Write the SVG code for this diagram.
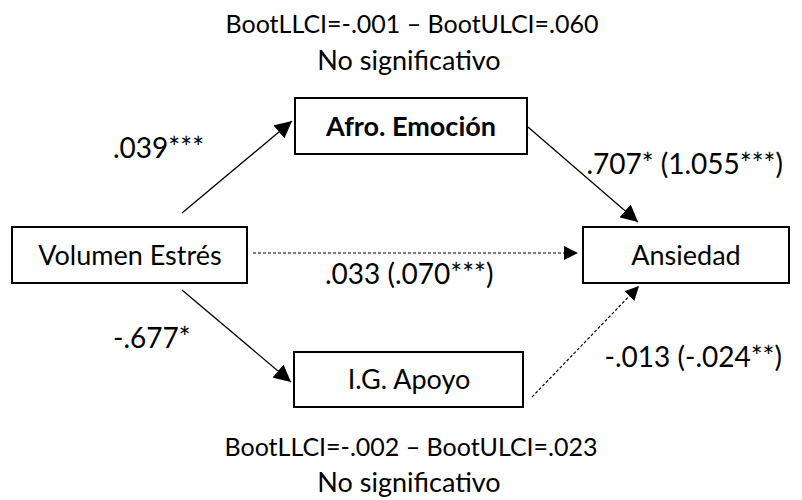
<svg xmlns="http://www.w3.org/2000/svg" width="802" height="500" viewBox="0 0 802 500">
  <style>
    text { font-family: Lato, "Open Sans", "Liberation Sans", sans-serif; font-size: 27px; fill: #000; }
    .ci { font-size: 25px; }
    .coef { font-size: 28px; }
    .box { fill: #fff; stroke: #000; stroke-width: 2; }
    .bold { font-weight: bold; }
    .mid { text-anchor: middle; }
    .end { text-anchor: end; }
    .solid { fill: none; stroke: #000; stroke-width: 1.3; }
    .dash { fill: none; stroke: #000; stroke-width: 1.2; stroke-dasharray: 3 2; }
  </style>
  <defs>
    <marker id="head" viewBox="0 0 10 10" refX="10" refY="5" markerWidth="14" markerHeight="14" markerUnits="userSpaceOnUse" orient="auto">
      <path d="M0,0 L10,5 L0,10 z" fill="#000"/>
    </marker>
    <marker id="headLarge" viewBox="0 0 10 10" refX="10" refY="5" markerWidth="17" markerHeight="17" markerUnits="userSpaceOnUse" orient="auto">
      <path d="M0,0 L10,5 L0,10 z" fill="#000"/>
    </marker>
  </defs>

  <!-- bootstrap confidence intervals of the indirect effects -->
  <text class="mid ci" x="412" y="33">BootLLCI=-.001 – BootULCI=.060</text>
  <text class="mid" x="409" y="70">No significativo</text>
  <text class="mid ci" x="411" y="456">BootLLCI=-.002 – BootULCI=.023</text>
  <text class="mid" x="409" y="492">No significativo</text>

  <!-- paths between variables -->
  <g id="connectors">
    <line class="solid" x1="182" y1="213" x2="292" y2="121" marker-end="url(#headLarge)"/>
    <line class="solid" x1="528" y1="127" x2="638" y2="222" marker-end="url(#headLarge)"/>
    <line class="dash" x1="253" y1="253" x2="578" y2="253" marker-end="url(#head)"/>
    <line class="solid" x1="182" y1="290" x2="291" y2="382" marker-end="url(#headLarge)"/>
    <line class="dash" x1="532" y1="397" x2="639" y2="286" marker-end="url(#head)"/>
  </g>

  <!-- path coefficients -->
  <g id="labels">
    <text class="coef" x="113" y="158">.039***</text>
    <text class="coef end" x="783" y="174">.707* (1.055***)</text>
    <text class="coef" x="325" y="284">.033 (.070***)</text>
    <text class="coef" x="113" y="348">-.677*</text>
    <text class="coef end" x="782" y="367">-.013 (-.024**)</text>
  </g>

  <g id="afro-emocion">
    <rect class="box" x="295" y="98" width="232" height="56"/>
    <text class="mid bold" x="411" y="136">Afro. Emoción</text>
  </g>
  <g id="volumen-estres">
    <rect class="box" x="12" y="227" width="235" height="56"/>
    <text class="mid" x="130" y="265">Volumen Estrés</text>
  </g>
  <g id="ansiedad">
    <rect class="box" x="583" y="227" width="206" height="56"/>
    <text class="mid" x="686" y="265">Ansiedad</text>
  </g>
  <g id="ig-apoyo">
    <rect class="box" x="294" y="352" width="229" height="55"/>
    <text class="mid" x="409" y="389">I.G. Apoyo</text>
  </g>
</svg>
